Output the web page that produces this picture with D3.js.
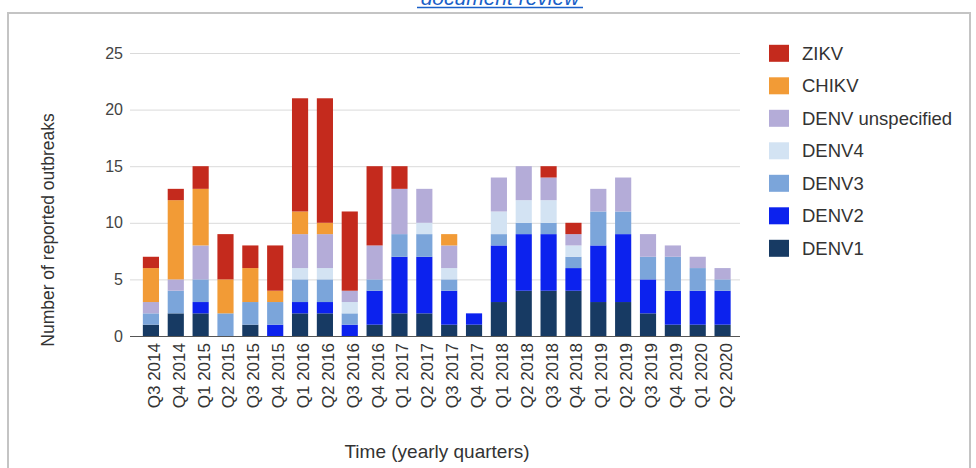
<!DOCTYPE html>
<html>
<head>
<meta charset="utf-8">
<script src="https://cdn.jsdelivr.net/npm/d3@7/dist/d3.min.js"></script>
<style>
  html, body { margin: 0; padding: 0; background: #fff; }
  svg { display: block; }
  text { font-family: "Liberation Sans", Arial, Helvetica, sans-serif; }
</style>
</head>
<body>
<svg id="chart" width="976" height="468"></svg>
<script>
// ---- data ----
const quarters = ["Q3 2014","Q4 2014","Q1 2015","Q2 2015","Q3 2015","Q4 2015",
  "Q1 2016","Q2 2016","Q3 2016","Q4 2016","Q1 2017","Q2 2017","Q3 2017","Q4 2017",
  "Q1 2018","Q2 2018","Q3 2018","Q4 2018","Q1 2019","Q2 2019","Q3 2019","Q4 2019",
  "Q1 2020","Q2 2020"];
const DENV1 = [1,2,2,0,1,0,2,2,0,1,2,2,1,1,3,4,4,4,3,3,2,1,1,1];
const DENV2 = [0,0,1,0,0,1,1,1,1,3,5,5,3,1,5,5,5,2,5,6,3,3,3,3];
const DENV3 = [1,2,2,2,2,2,2,2,1,1,2,2,1,0,1,1,1,1,3,2,2,3,2,1];
const DENV4 = [0,0,0,0,0,0,1,1,1,0,0,1,1,0,2,2,2,1,0,0,0,0,0,0];
const DENVu = [1,1,3,0,0,0,3,3,1,3,4,3,2,0,3,3,2,1,2,3,2,1,1,1];
const CHIKV = [3,7,5,3,3,1,2,1,0,0,0,0,1,0,0,0,0,0,0,0,0,0,0,0];
const ZIKV  = [1,1,2,4,2,4,10,11,7,7,2,0,0,0,0,0,1,1,0,0,0,0,0,0];
const seriesNames = ["DENV1","DENV2","DENV3","DENV4","DENV unspecified","CHIKV","ZIKV"];
const seriesValues = [DENV1, DENV2, DENV3, DENV4, DENVu, CHIKV, ZIKV];
const yTicks = [0, 5, 10, 15, 20, 25];
const legendOrder = ["ZIKV","CHIKV","DENV unspecified","DENV4","DENV3","DENV2","DENV1"];

// ---- styles ----
const colors = {
  "DENV1": "#173a63",
  "DENV2": "#0c22ee",
  "DENV3": "#7ba5da",
  "DENV4": "#d3e3f3",
  "DENV unspecified": "#b4acd8",
  "CHIKV": "#f29b36",
  "ZIKV": "#c42a1d"
};

const svg = d3.select("#chart");

// frame
svg.append("path")
  .attr("d", "M8,468 L8,13 L970,13 L970,468")
  .attr("fill", "none").attr("stroke", "#c4c4c4").attr("stroke-width", 2);

// top clipped link text
const link = svg.append("text")
  .attr("x", 500).attr("y", 5)
  .attr("text-anchor", "middle")
  .attr("font-style", "italic")
  .attr("font-size", 21)
  .attr("fill", "#1a5fc8")
  .text("document review");
svg.append("line").attr("x1", 417).attr("x2", 583).attr("y1", 7.5).attr("y2", 7.5)
  .attr("stroke", "#1a5fc8").attr("stroke-width", 1.5);

// scales
const x = d3.scaleBand().domain(quarters).range([138.5, 735])
  .paddingInner(0.35).paddingOuter(0.175);
const y = d3.scaleLinear().domain([0, 25]).range([336, 53]);

// table for stacking
const table = quarters.map((q, i) => {
  const row = { q };
  seriesNames.forEach((s, k) => row[s] = seriesValues[k][i]);
  return row;
});
const stack = d3.stack().keys(seriesNames)(table);

// y axis + gridlines
const gx0 = 130, gx1 = 740;
const yAxis = svg.append("g").attr("transform", `translate(${gx0},0)`)
  .call(d3.axisLeft(y).tickValues(yTicks).tickSize(-(gx1 - gx0)).tickPadding(7));
yAxis.select(".domain").remove();
yAxis.selectAll(".tick line").attr("stroke", "#dadada").attr("stroke-width", 1);
yAxis.selectAll(".tick text").attr("font-size", 16).attr("fill", "#444")
  .attr("font-family", "'Liberation Sans', Arial, sans-serif");

// bars
svg.append("g").selectAll("g").data(stack).join("g")
  .attr("fill", d => colors[d.key])
  .selectAll("rect").data(d => d).join("rect")
  .attr("x", d => x(d.data.q))
  .attr("width", x.bandwidth())
  .attr("y", d => y(d[1]))
  .attr("height", d => y(d[0]) - y(d[1]));

// baseline
svg.append("line").attr("x1", gx0).attr("x2", gx1)
  .attr("y1", y(0) + 0.5).attr("y2", y(0) + 0.5)
  .attr("stroke", "#555").attr("stroke-width", 1.2);

// x labels
const xAxis = svg.append("g").attr("transform", `translate(0,${y(0)})`)
  .call(d3.axisBottom(x).tickSize(0).tickPadding(0));
xAxis.select(".domain").remove();
xAxis.selectAll(".tick text")
  .attr("font-size", 17).attr("fill", "#333")
  .attr("font-family", "'Liberation Sans', Arial, sans-serif")
  .attr("text-anchor", "end")
  .attr("transform", "translate(3,7) rotate(-90)")
  .attr("x", 0).attr("y", 0).attr("dy", "0.35em");

// axis titles
svg.append("text")
  .attr("transform", "translate(54,230) rotate(-90)")
  .attr("text-anchor", "middle")
  .attr("font-size", 17.5).attr("fill", "#333")
  .text("Number of reported outbreaks");
svg.append("text")
  .attr("x", 437).attr("y", 458)
  .attr("text-anchor", "middle")
  .attr("font-size", 19).attr("fill", "#333")
  .text("Time (yearly quarters)");

// legend
const leg = svg.append("g");
const legItems = leg.selectAll("g").data(legendOrder).join("g")
  .attr("transform", (d, i) => `translate(769,${53.3 + i * 32.5})`);
legItems.append("rect")
  .attr("x", 0).attr("y", -8.5).attr("width", 20).attr("height", 17)
  .attr("fill", d => colors[d]);
legItems.append("text")
  .attr("x", 33).attr("y", 0).attr("dy", "0.35em")
  .attr("font-size", 18.5).attr("fill", "#333")
  .text(d => d);
</script>
</body>
</html>
